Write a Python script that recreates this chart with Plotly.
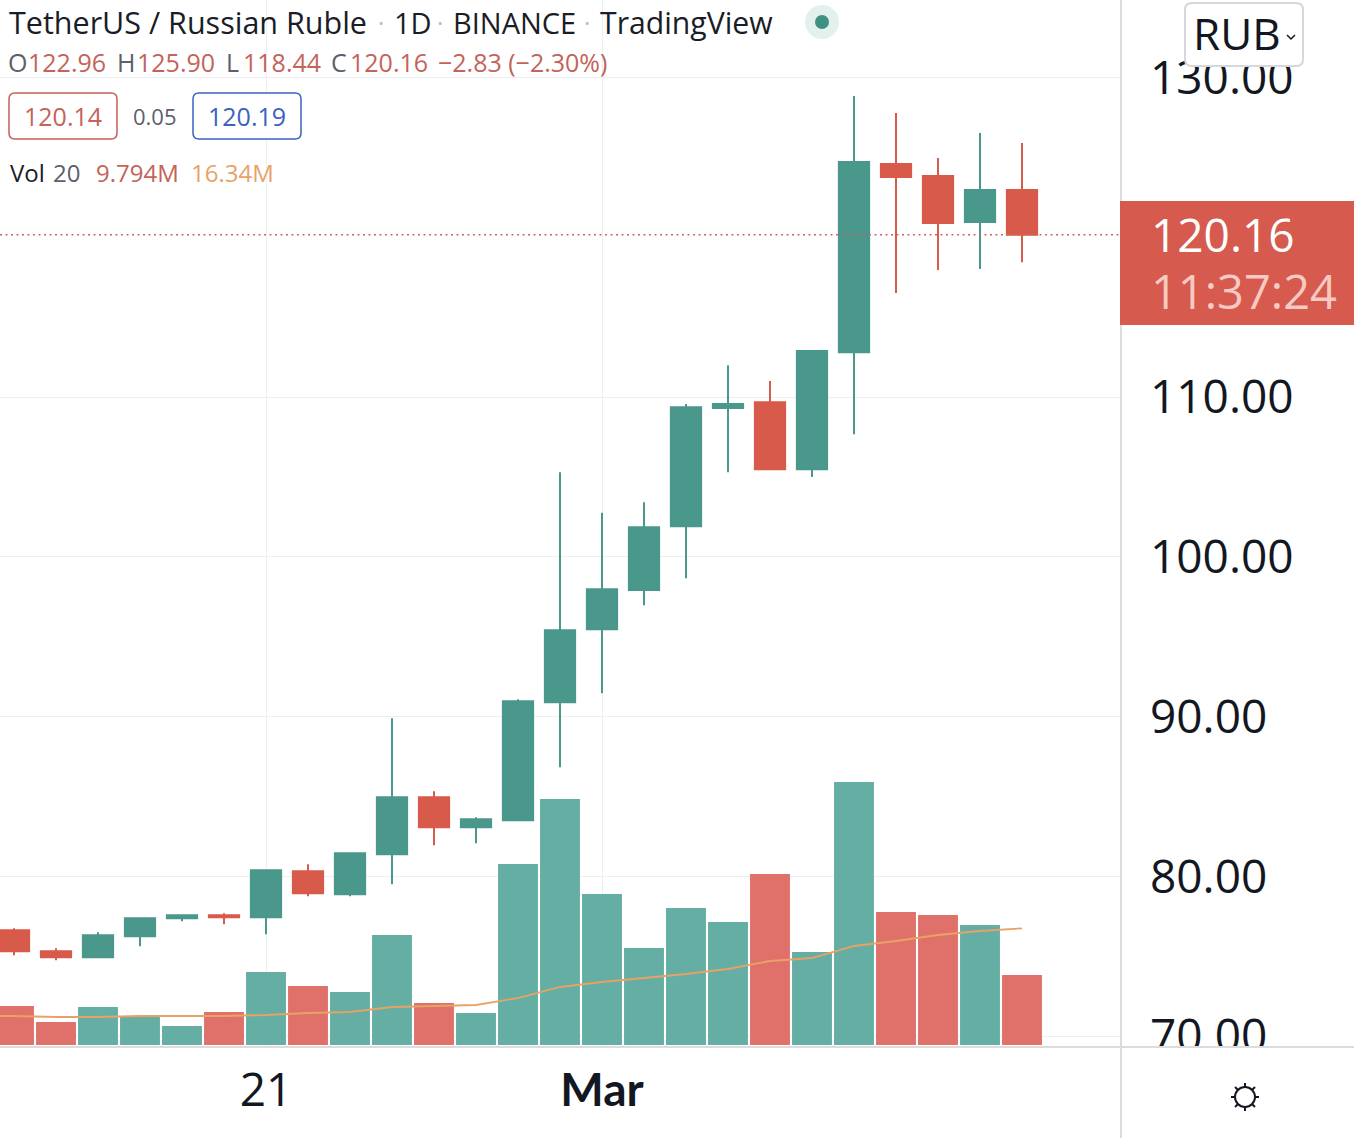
import plotly.graph_objects as go

dates = ["2022-02-15","2022-02-16","2022-02-17","2022-02-18","2022-02-19","2022-02-20","2022-02-21","2022-02-22","2022-02-23","2022-02-24","2022-02-25","2022-02-26","2022-02-27","2022-02-28","2022-03-01","2022-03-02","2022-03-03","2022-03-04","2022-03-05","2022-03-06","2022-03-07","2022-03-08","2022-03-09","2022-03-10","2022-03-11"]
opens = [76.63,75.32,74.94,76.26,77.38,77.57,77.45,80.32,78.89,81.39,84.96,83.08,83.52,90.91,95.47,97.92,101.92,109.31,109.68,105.49,112.81,124.58,123.83,120.95,122.96]
highs = [76.76,75.50,76.51,77.45,77.63,77.70,80.45,80.76,81.51,89.90,85.33,83.71,91.09,105.30,102.76,103.42,109.56,112.00,111.00,112.94,128.84,127.78,124.96,126.52,125.90]
lows = [75.07,74.75,74.94,75.63,77.20,77.01,76.38,78.76,78.76,79.51,81.95,82.08,83.52,86.83,91.47,96.98,98.67,105.30,105.49,105.00,107.68,116.51,117.95,118.01,118.44]
closes = [75.32,74.94,76.32,77.38,77.57,77.45,80.39,78.95,81.45,84.96,83.08,83.58,90.97,95.41,97.98,101.86,109.37,109.56,105.49,112.88,124.71,123.77,120.89,122.96,120.16]
volumes = [5.46,3.22,5.32,3.92,2.66,4.62,10.22,8.26,7.42,15.4,5.88,4.48,25.34,34.44,21.14,13.58,19.18,17.22,23.94,13.02,36.82,18.62,18.2,16.8,9.794]
volume_up = [0,0,1,1,1,0,1,0,1,1,0,1,1,1,1,1,1,1,0,1,1,0,0,1,0]
ma_dates = ["2022-02-14"] + dates
ma_values = [4.06,4.06,3.92,3.92,4.06,4.06,4.06,4.2,4.48,4.62,5.32,5.46,5.6,6.58,8.12,8.82,9.38,9.94,10.64,11.76,12.18,13.86,14.56,15.4,15.96,16.34]
last_price = 120.16
price_ticks = [70,80,90,100,110,130]
price_labels = ["70.00","80.00","90.00","100.00","110.00","130.00"]
time_ticks = ["2022-02-21","2022-03-01"]
time_labels = ["21","<span style=\"font-family:Lato\"><b>Mar</b></span>"]

GREEN, RED = "#4a978b", "#d85a4b"
VGREEN, VRED = "#65aea3", "#e0716a"
ORANGE = "#e9a266"
INK = "#131722"
GRID = "#eceef1"
EDGE = "#dcdcdc"
FONT = "Open Sans"
W, H, PW, PH = 1354, 1138, 1120, 1046

def px(x):
    return x / PW
def py(y):
    return 1 - y / PH

fig = go.Figure()
fig.add_trace(go.Candlestick(
    x=dates, open=opens, high=highs, low=lows, close=closes, whiskerwidth=0,
    increasing=dict(fillcolor=GREEN, line=dict(color=GREEN, width=2)),
    decreasing=dict(fillcolor=RED, line=dict(color=RED, width=2)),
    showlegend=False, hoverinfo="skip"))
fig.add_trace(go.Bar(x=dates, y=volumes, yaxis="y2",
    marker=dict(color=[VGREEN if u else VRED for u in volume_up], line=dict(width=0)),
    showlegend=False, hoverinfo="skip"))
fig.add_trace(go.Scatter(x=ma_dates, y=ma_values, yaxis="y2", mode="lines",
    line=dict(color=ORANGE, width=1.8), showlegend=False, hoverinfo="skip"))

shapes = []
def rect(x0, y0, x1, y1, fill, line=None, lw=0):
    shapes.append(dict(type="rect", xref="paper", yref="paper", x0=px(x0), x1=px(x1), y0=py(y1), y1=py(y0),
                       fillcolor=fill, line=dict(color=line or fill, width=lw)))
def rrect(x0, y0, x1, y1, r, line, lw=2, fill="rgba(255,255,255,1)"):
    p = (f"M{px(x0+r)},{py(y0)} L{px(x1-r)},{py(y0)} Q{px(x1)},{py(y0)} {px(x1)},{py(y0+r)} "
         f"L{px(x1)},{py(y1-r)} Q{px(x1)},{py(y1)} {px(x1-r)},{py(y1)} L{px(x0+r)},{py(y1)} "
         f"Q{px(x0)},{py(y1)} {px(x0)},{py(y1-r)} L{px(x0)},{py(y0+r)} Q{px(x0)},{py(y0)} {px(x0+r)},{py(y0)} Z")
    shapes.append(dict(type="path", xref="paper", yref="paper", path=p, fillcolor=fill, line=dict(color=line, width=lw)))
def circle(cx, cy, r, fill, line=None, lw=0):
    shapes.append(dict(type="circle", xref="paper", yref="paper", x0=px(cx-r), x1=px(cx+r), y0=py(cy+r), y1=py(cy-r),
                       fillcolor=fill, line=dict(color=line or fill, width=lw)))
def seg(pts, color, lw=2):
    p = "M" + " L".join(f"{px(a)},{py(b)}" for a, b in pts)
    shapes.append(dict(type="path", xref="paper", yref="paper", path=p, line=dict(color=color, width=lw)))

# last price line
shapes.append(dict(type="line", xref="paper", yref="y", x0=0, x1=1, y0=last_price, y1=last_price,
                   line=dict(color="#c8695c", width=1.5, dash="2px,3.5px")))
# clip of the price scale below the plot, frame lines
rect(1122, 1047, W, H, "#ffffff")
seg([(1121, 0), (1121, H)], EDGE, 2)
seg([(0, 1047), (W, 1047)], EDGE, 2)
# price tag
rect(1120, 201, W, 325, "#d65a4d")
# currency button
rrect(1185, 3, 1303, 66, 7, "#d5d7dc", 2)
seg([(1287, 35), (1291, 39), (1295, 35)], INK, 1.5)
# live dot
circle(822, 22, 17, "#e3f0ee")
circle(822, 22, 7, "#3f9080")
# bid / ask boxes
rrect(9, 93, 117, 139, 6, "#c0605a", 1.5)
rrect(193, 93, 301, 139, 6, "#3a62c0", 1.5)
# settings icon
circle(1245, 1097, 10, "#ffffff", "#131722", 2)
for a, b, c, d in [(1245,1083,1245,1087),(1245,1107,1245,1111),(1231,1097,1235,1097),(1255,1097,1259,1097),
                   (1235,1087,1238,1090),(1252,1104,1255,1107),(1235,1107,1238,1104),(1252,1090,1255,1087)]:
    seg([(a, b), (c, d)], "#131722", 2)

ann = []
def text(x, y, s, color, size, anchor="left"):
    ann.append(dict(xref="paper", yref="paper", x=px(x), y=py(y), text=s, showarrow=False, xanchor=anchor,
                    yanchor="middle", font=dict(family=FONT, size=size, color=color), borderpad=0, borderwidth=0))

DARK = "#1a1d26"
GREY = "#5d606b"
TXTRED = "#c4635a"
text(9, 22, "TetherUS / Russian Ruble", DARK, 30.5)
text(381, 22, "·", "#b8bbc2", 24, "center")
text(394, 22, "1D", DARK, 29)
text(440, 22, "·", "#b8bbc2", 24, "center")
text(453, 22, "BINANCE", DARK, 29)
text(587, 22, "·", "#b8bbc2", 24, "center")
text(600, 22, "TradingView", DARK, 30.2)
for x, s, c in [(8,"O",GREY),(28,"122.96",TXTRED),(117,"H",GREY),(137,"125.90",TXTRED),(226,"L",GREY),(243,"118.44",TXTRED),
                (331,"C",GREY),(350,"120.16",TXTRED),(438,"−2.83 (−2.30%)",TXTRED)]:
    text(x, 62, s, c, 25)
text(63, 116, "120.14", TXTRED, 25, "center")
text(155, 116, "0.05", GREY, 22, "center")
text(247, 116, "120.19", "#3a62c0", 25, "center")
text(10, 173, "Vol", DARK, 24)
text(53, 173, "20", GREY, 24)
text(96, 173, "9.794M", TXTRED, 24)
text(191, 173, "16.34M", ORANGE, 24)
text(1151, 234, "120.16", "#ffffff", 46)
text(1151, 291, "11:37:24", "#f7c9c3", 47)
text(1193, 33, "RUB", INK, 44)

fig.update_layout(
    width=W, height=H, paper_bgcolor="white", plot_bgcolor="white", showlegend=False,
    margin=dict(l=0, r=W-PW, t=0, b=H-PH, autoexpand=False, pad=0),
    bargap=0.05, boxgap=0.28, boxgroupgap=0, shapes=shapes, annotations=ann,
    xaxis=dict(type="date", range=["2022-02-14 16:00", "2022-03-13 08:00"], rangeslider=dict(visible=False),
               tickmode="array", tickvals=time_ticks, ticktext=time_labels, showgrid=True, gridcolor=GRID, gridwidth=1,
               showline=False, zeroline=False, ticks="", ticklabelstandoff=13,
               tickfont=dict(family=FONT, size=46, color=INK)),
    yaxis=dict(side="right", range=[69.39, 134.85], tickmode="array", tickvals=price_ticks, ticktext=price_labels,
               showgrid=True, gridcolor=GRID, gridwidth=1, showline=False, zeroline=False, ticks="",
               ticklabelstandoff=29, tickfont=dict(family=FONT, size=46, color=INK)),
    yaxis2=dict(overlaying="y", side="left", range=[-0.14, 146.3], visible=False),
)
fig.write_html("out.html", config=dict(displayModeBar=False),
               post_script="document.body.style.margin='0';document.body.style.overflow='hidden';")
